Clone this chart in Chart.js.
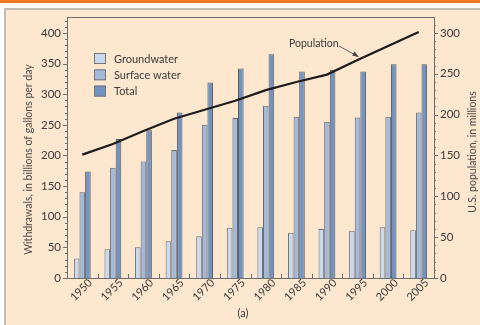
<!DOCTYPE html>
<html>
<head>
<meta charset="utf-8">
<script src="https://cdn.jsdelivr.net/npm/chart.js@4.4.1/dist/chart.umd.min.js"></script>
<style>
html,body{margin:0;padding:0;background:#fff;}
#wrap{width:480px;height:325px;position:relative;}
</style>
</head>
<body>
<div id="wrap"><canvas id="c" width="480" height="325"></canvas></div>
<script>
const years = ['1950','1955','1960','1965','1970','1975','1980','1985','1990','1995','2000','2005'];
const groundwater = [32, 47, 50, 60, 68, 82, 83, 74, 80, 77, 83, 78];
const surfaceWater = [140, 180, 190, 209, 250, 261, 281, 263, 255, 262, 263, 270];
const totalWater = [174, 227, 241, 270, 319, 342, 365, 337, 340, 337, 349, 349];
const population = [151, 164, 180, 195, 206, 217, 230, 240, 249, 267, 284, 301];
const leftTicks = [0, 50, 100, 150, 200, 250, 300, 350, 400];
const rightTicks = [0, 50, 100, 150, 200, 250, 300];

const FONT = 'Lato, "Open Sans", sans-serif';
const TXT = '#3a3a3a';
const AX = '#6e6e6e';
const C_GW = '#cad9ee', C_SW = '#a2b9dc', C_TOT = '#7093c4';

const decor = {
  id: 'decor',
  beforeDraw(chart) {
    const ctx = chart.ctx;
    ctx.save();
    ctx.fillStyle = '#ffffff';
    ctx.fillRect(0, 0, 480, 325);
    ctx.fillStyle = '#f27b21';
    ctx.fillRect(0, 0, 480, 3);
    ctx.fillStyle = '#fde7cf';
    ctx.fillRect(4, 8, 476, 317);
    ctx.strokeStyle = '#c4bcb4';
    ctx.lineWidth = 2;
    ctx.beginPath();
    ctx.moveTo(5, 325); ctx.lineTo(5, 9); ctx.lineTo(480, 9);
    ctx.stroke();
    ctx.restore();
  },
  afterDatasetsDraw(chart) {
    const ctx = chart.ctx;
    const a = chart.chartArea;
    const x = chart.scales.x, yl = chart.scales.y, yr = chart.scales.y2;
    ctx.save();
    // frame
    ctx.strokeStyle = AX; ctx.lineWidth = 1;
    ctx.strokeRect(Math.round(a.left) + 0.5, Math.round(a.top) + 0.5, Math.round(a.right - a.left), Math.round(a.bottom - a.top));
    // minor ticks
    ctx.beginPath();
    for (let v = 0; v <= 420; v += 10) {
      const py = Math.round(yl.getPixelForValue(v)) + 0.5;
      if (py < a.top) break;
      const len = v % 50 === 0 ? 4 : 2;
      ctx.moveTo(a.left - len, py); ctx.lineTo(a.left, py);
    }
    for (let v = 0; v <= 315; v += 10) {
      const py = Math.round(yr.getPixelForValue(v)) + 0.5;
      if (py < a.top) break;
      const len = v % 50 === 0 ? 4 : 2;
      ctx.moveTo(a.right, py); ctx.lineTo(a.right + len, py);
    }
    // x boundary ticks (inward)
    const n = years.length;
    const step = (a.right - a.left) / n;
    for (let i = 1; i < n; i++) {
      const px = Math.round(a.left + step * i) + 0.5;
      ctx.moveTo(px, a.bottom); ctx.lineTo(px, a.bottom - 4);
    }
    ctx.stroke();

    // x labels rotated
    ctx.fillStyle = TXT;
    ctx.font = '11px ' + FONT;
    ctx.textAlign = 'center'; ctx.textBaseline = 'middle';
    years.forEach((lab, i) => {
      const px = x.getPixelForTick(i);
      ctx.save();
      ctx.translate(px - 1, a.bottom + 12);
      ctx.rotate(-Math.PI / 4);
      ctx.fillText(lab, 0, 0);
      ctx.restore();
    });
    // (a)
    ctx.fillText('(a)', 243, 313);

    // axis titles
    ctx.font = '10.5px ' + FONT;
    ctx.fillStyle = '#4a4a4a';
    ctx.save();
    ctx.translate(29, (a.top + a.bottom) / 2 + 12);
    ctx.rotate(-Math.PI / 2);
    ctx.fillText('Withdrawals, in billions of gallons per day', 0, 0);
    ctx.restore();
    ctx.save();
    ctx.translate(473, 152);
    ctx.rotate(-Math.PI / 2);
    ctx.fillText('U.S. population, in millions', 0, 0);
    ctx.restore();

    // legend
    const items = [['Groundwater', C_GW], ['Surface water', C_SW], ['Total', C_TOT]];
    ctx.font = '11px ' + FONT;
    ctx.textAlign = 'left';
    items.forEach((it, i) => {
      const by = 53 + i * 16.3;
      ctx.fillStyle = it[1];
      ctx.fillRect(94, by, 12, 11);
      ctx.strokeStyle = '#777'; ctx.lineWidth = 1;
      ctx.strokeRect(94.5, by + 0.5, 11, 10);
      ctx.fillStyle = TXT;
      ctx.fillText(it[0], 114, by + 6);
    });

    // population annotation
    ctx.font = '10.5px ' + FONT;
    ctx.fillStyle = TXT;
    ctx.fillText('Population', 289, 44);
    ctx.strokeStyle = '#555'; ctx.lineWidth = 0.9;
    ctx.beginPath();
    ctx.moveTo(339, 46); ctx.lineTo(357, 56);
    ctx.stroke();
    ctx.fillStyle = '#444';
    ctx.beginPath();
    ctx.moveTo(359, 57.2); ctx.lineTo(352.2, 55.6); ctx.lineTo(354.6, 51.6);
    ctx.closePath(); ctx.fill();
    ctx.restore();
  }
};

new Chart(document.getElementById('c'), {
  data: {
    labels: years,
    datasets: [
      { type: 'line', label: 'Population', data: population, yAxisID: 'y2', borderColor: '#1c1c1c', borderWidth: 2.2, pointRadius: 0, tension: 0, order: 0 },
      { type: 'bar', label: 'Groundwater', data: groundwater, yAxisID: 'y', backgroundColor: C_GW, borderColor: '#707070', borderWidth: 1, categoryPercentage: 0.55, barPercentage: 1.0, order: 1 },
      { type: 'bar', label: 'Surface water', data: surfaceWater, yAxisID: 'y', backgroundColor: C_SW, borderColor: '#6a6a6a', borderWidth: 1, categoryPercentage: 0.55, barPercentage: 1.0, order: 1 },
      { type: 'bar', label: 'Total', data: totalWater, yAxisID: 'y', backgroundColor: C_TOT, borderColor: '#5a5a5a', borderWidth: 1, categoryPercentage: 0.55, barPercentage: 1.0, order: 1 }
    ]
  },
  options: {
    responsive: false,
    animation: false,
    layout: { padding: { top: 17, left: 0, right: 0, bottom: 0 } },
    plugins: { legend: { display: false }, tooltip: { enabled: false } },
    scales: {
      x: {
        type: 'category',
        offset: true,
        grid: { display: false },
        border: { display: false },
        ticks: { display: false },
        afterFit(s) { s.height = 47; }
      },
      y: {
        position: 'left',
        min: 0, max: 426,
        afterBuildTicks(s) { s.ticks = leftTicks.map(v => ({ value: v })); },
        grid: { drawOnChartArea: false, tickLength: 0, display: false },
        border: { display: false },
        ticks: { padding: 6, color: TXT, font: { family: FONT, size: 11.5 } },
        afterFit(s) { s.width = 67; }
      },
      y2: {
        position: 'right',
        min: 0, max: 319.5,
        afterBuildTicks(s) { s.ticks = rightTicks.map(v => ({ value: v })); },
        grid: { drawOnChartArea: false, tickLength: 0, display: false },
        border: { display: false },
        ticks: { padding: 6, color: TXT, font: { family: FONT, size: 11.5 } },
        afterFit(s) { s.width = 46; }
      }
    }
  },
  plugins: [decor]
});
</script>
</body>
</html>
